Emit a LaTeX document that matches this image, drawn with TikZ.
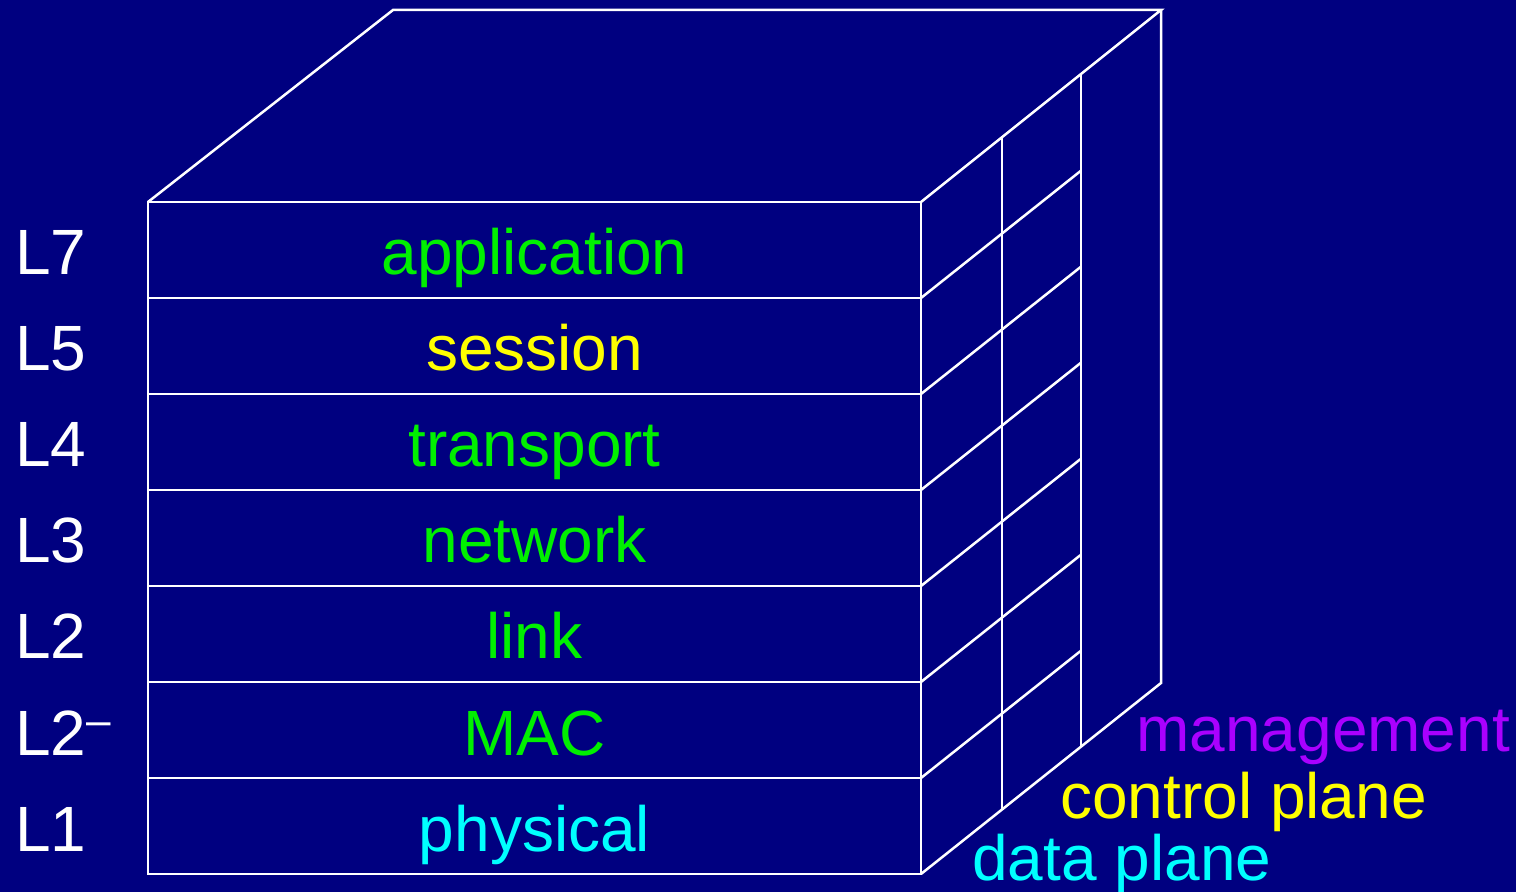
\documentclass[tikz,border=0pt]{standalone}
\usepackage{fontspec}
\setmainfont{Liberation Sans}
\definecolor{bg}{HTML}{000080}
\definecolor{lgreen}{HTML}{00F000}
\definecolor{lyellow}{HTML}{FFFF00}
\definecolor{lcyan}{HTML}{00FFFF}
\definecolor{lpurple}{HTML}{AA00FF}
\begin{document}
\begin{tikzpicture}[x=0.5pt,y=-0.5pt,
  edge/.style={white,line width=1.25pt},
  lbl/.style={anchor=base west,white,inner sep=0,font=\fontsize{32}{38}\selectfont},
  lay/.style={anchor=base,inner sep=0,font=\fontsize{32}{38}\selectfont},
  plane/.style={anchor=base west,inner sep=0,font=\fontsize{32}{38}\selectfont}]
\fill[bg] (0,0) rectangle (1516,892);
\useasboundingbox (0,0) rectangle (1516,892);
% corners
\coordinate (A) at (148,202);
\coordinate (B) at (921,202);
\coordinate (C) at (393,10);
\coordinate (D) at (1161,10);
\coordinate (E) at (1161,683);
\coordinate (F) at (921,874);
% top and right faces
\draw[edge] (A) -- (C) -- (D) -- (B);
\draw[edge] (D) -- (E) -- (F);
% plane dividers on the right face
\coordinate (P1t) at (1002,137.5);
\coordinate (P1b) at (1002,809.5);
\coordinate (P2t) at (1081,74.7);
\coordinate (P2b) at (1081,746.7);
\draw[edge] (P1t) -- (P1b);
\draw[edge] (P2t) -- (P2b);
% layer rows on the front face
\foreach \i in {0,...,6}{
  \draw[edge] (148,202+96*\i) rectangle (921,298+96*\i);
}
% depth lines of the layer boundaries
\foreach \y in {298,394,490,586,682,778}{
  \coordinate (s) at (921,\y);
  \draw[edge] (s) -- ++(160,-127.3);
}
% layer names
\node[lay,lgreen]  (n7) at (534.5,275) {application};
\node[lay,lyellow] (n5) at (534.5,371) {session};
\node[lay,lgreen]  (n4) at (534.5,467) {transport};
\node[lay,lgreen]  (n3) at (534.5,563) {network};
\node[lay,lgreen]  (n2) at (534.5,659) {link};
\node[lay,lgreen]  (n2m) at (534.5,755) {MAC};
\node[lay,lcyan]   (n1) at (534.5,851) {physical};
% layer numbers
\node[lbl] (l7) at (15,275) {L7};
\node[lbl] (l5) at (15,371) {L5};
\node[lbl] (l4) at (15,467) {L4};
\node[lbl] (l3) at (15,563) {L3};
\node[lbl] (l2) at (15,659) {L2};
\node[lbl] (l2m) at (15,755) {L2\raisebox{10pt}{\fontsize{22}{22}\selectfont –}};
\node[lbl] (l1) at (15,851) {L1};
% plane names
\node[plane,lpurple] (pm) at (1136,752) {management};
\node[plane,lyellow] (pc) at (1060,818) {control plane};
\node[plane,lcyan]   (pd) at (972,880) {data plane};
\end{tikzpicture}
\end{document}
